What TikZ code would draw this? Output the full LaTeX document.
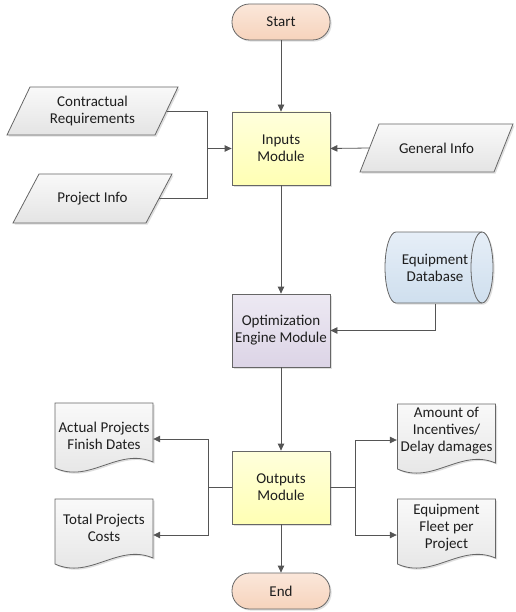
\documentclass[tikz,border=0pt]{standalone}
\usepackage{fontspec}
\setmainfont{Carlito}
\usetikzlibrary{arrows.meta,shadows}
\definecolor{linec}{HTML}{555555}
\definecolor{borderc}{HTML}{666666}
\definecolor{textc}{HTML}{1E1E1E}
\definecolor{termtop}{HTML}{FBE7DA}
\definecolor{termbot}{HTML}{F6D3BC}
\definecolor{proctop}{HTML}{FFFFDC}
\definecolor{procbot}{HTML}{FFFFB4}
\definecolor{opttop}{HTML}{EDE9F3}
\definecolor{optbot}{HTML}{DCD4E6}
\definecolor{dbtop}{HTML}{E6EEF7}
\definecolor{dbbot}{HTML}{CFDFEE}
\definecolor{graytop}{HTML}{F9F9F9}
\definecolor{graybot}{HTML}{E4E4E4}
\newcommand\parashape[5]{\path[parast] (#1-#3/2+#5/2,#2-#4/2) -- (#1+#3/2+#5/2,#2-#4/2) -- (#1+#3/2-#5/2,#2+#4/2) -- (#1-#3/2-#5/2,#2+#4/2) -- cycle;}
\newcommand\docshape[2]{\path[parast] (#1-49,#2-36) -- (#1+49,#2-36) -- (#1+49,#2+23) .. controls (#1+14,#2+8) and (#1-14,#2+45) .. (#1-49,#2+29) -- cycle;}
\begin{document}
\begin{tikzpicture}[x=1pt,y=-1pt,
  shad/.style={drop shadow={shadow xshift=1.6pt,shadow yshift=-1.6pt,opacity=0.25}},
  txt/.style={font=\fontsize{15}{17}\selectfont,align=center,inner sep=0pt,text=textc},
  term/.style={txt,draw=borderc,line width=0.8pt,rounded corners=17.5pt,minimum width=98pt,minimum height=36pt,top color=termtop,bottom color=termbot,shad},
  proc/.style={txt,draw=borderc,line width=0.8pt,minimum width=98pt,minimum height=73pt,top color=proctop,bottom color=procbot,shad},
  parast/.style={draw=borderc,line width=0.8pt,top color=graytop,bottom color=graybot,shad},
  dbst/.style={draw=borderc,line width=0.8pt,top color=dbtop,bottom color=dbbot,shad},
  ln/.style={draw=linec,line width=0.8pt},
  arr/.style={ln,-{Triangle[length=7pt,width=6.5pt]}}]
\useasboundingbox (0,0) rectangle (515,612);
% process / terminal nodes
\node[term] (start) at (281,22) {Start};
\node[proc] (inp) at (281,148.5) {Inputs\\Module};
\node[proc,top color=opttop,bottom color=optbot] (opt) at (281,330.5) {Optimization\\Engine Module};
\node[proc] (out) at (281,487.5) {Outputs\\Module};
\node[term] (end) at (281,591) {End};
% input parallelograms
\parashape{92.5}{111}{148}{48}{23}
\parashape{92.5}{198.5}{133}{49}{26}
\parashape{436.5}{148}{134}{48}{19}
\node[txt,minimum width=148pt,minimum height=48pt] (contr) at (92.5,111) {Contractual\\Requirements};
\node[txt,minimum width=133pt,minimum height=49pt] (proj) at (92.5,198.5) {Project Info};
\node[txt,minimum width=134pt,minimum height=48pt] (gen) at (436.5,148) {General Info};
% database cylinder
\path[dbst] (396,232) -- (482,232) arc[start angle=-90,end angle=90,x radius=11,y radius=35.5] -- (396,303) arc[start angle=90,end angle=270,x radius=11,y radius=35.5] -- cycle;
\draw[draw=borderc,line width=0.8pt] (482,232) arc[start angle=-90,end angle=-270,x radius=11,y radius=35.5];
\node[txt,minimum width=86pt,minimum height=71pt] (db) at (435,268) {Equipment\\Database};
% output documents
\docshape{104}{439}
\docshape{104}{535}
\docshape{446.5}{440}
\docshape{446.5}{535}
\node[txt,minimum width=98pt] (act) at (104,435.5) {Actual Projects\\Finish Dates};
\node[txt,minimum width=98pt] (tot) at (104,527.5) {Total Projects\\Costs};
\node[txt,minimum width=99pt] (amt) at (446.5,430.5) {Amount of\\Incentives/\\Delay damages};
\node[txt,minimum width=99pt] (fleet) at (446.5,527.5) {Equipment\\Fleet per\\Project};
% junction points
\coordinate (jin) at (207,148.5);
\coordinate (jl) at (208,487.5);
\coordinate (jr) at (355,487.5);
% connectors
\draw[arr] (start) -- (inp);
\draw[ln] (contr.east) -| (jin);
\draw[ln] (proj.east) -| (jin);
\draw[arr] (jin) -- (inp.west);
\draw[arr] (gen.west) -- (inp.east);
\draw[arr] (inp) -- (opt);
\draw[arr] (db.south) |- (opt.east);
\draw[arr] (opt) -- (out);
\draw[arr] (out) -- (end);
\draw[ln] (out.west) -- (jl);
\draw[arr] (jl) |- ([yshift=-3.5pt]act.east);
\draw[arr] (jl) |- ([yshift=-7.5pt]tot.east);
\draw[ln] (out.east) -- (jr);
\draw[arr] (jr) |- ([yshift=-9.5pt]amt.west);
\draw[arr] (jr) |- ([yshift=-7.5pt]fleet.west);
\end{tikzpicture}
\end{document}
